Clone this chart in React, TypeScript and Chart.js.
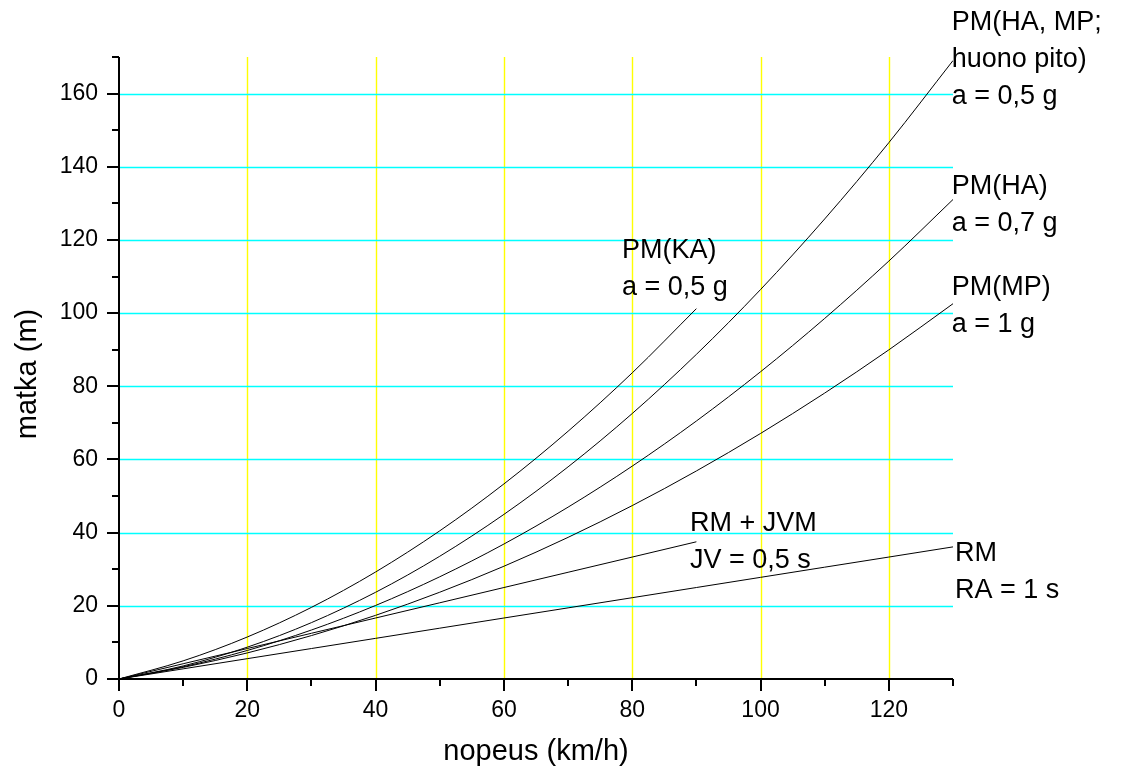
import React, { useEffect, useRef } from 'react';
import { Chart, registerables } from 'chart.js';

Chart.register(...registerables);

// speeds (km/h)
const speedFull = [0, 10, 20, 30, 40, 50, 60, 70, 80, 90, 100, 110, 120, 130];
const speedShort = [0, 10, 20, 30, 40, 50, 60, 70, 80, 90];

// distances (m)
const rmRa1s = [0, 2.78, 5.56, 8.33, 11.11, 13.89, 16.67, 19.44, 22.22, 25.0, 27.78, 30.56, 33.33, 36.11];
const rmJvm = [0, 4.17, 8.33, 12.5, 16.67, 20.83, 25.0, 29.17, 33.33, 37.5];
const pmMp = [0, 3.17, 7.13, 11.87, 17.4, 23.72, 30.82, 38.71, 47.39, 56.86, 67.11, 78.15, 89.96, 102.57];
const pmHa = [0, 3.34, 7.8, 13.39, 20.1, 27.94, 36.89, 46.97, 58.18, 70.51, 83.97, 98.55, 114.23, 131.05];
const pmHaMpHuono = [0, 3.57, 8.7, 15.41, 23.7, 33.55, 44.99, 57.98, 72.56, 88.72, 106.44, 125.74, 146.59, 169.03];
const pmKa = [0, 4.96, 11.48, 19.58, 29.25, 40.5, 53.32, 67.71, 83.67, 101.22];

// tick labels
const xTickLabels = ['0', '20', '40', '60', '80', '100', '120'];
const yTickLabels = ['0', '20', '40', '60', '80', '100', '120', '140', '160'];

const xTitle = 'nopeus (km/h)';
const yTitle = 'matka (m)';

// curve labels (anchored in data units, left/middle of first line)
const curveLabels = [
  { lines: ['PM(HA, MP;', 'huono pito)', 'a = 0,5 g'], x: 129.8, y: 179.3 },
  { lines: ['PM(HA)', 'a = 0,7 g'], x: 129.8, y: 134.5 },
  { lines: ['PM(MP)', 'a = 1 g'], x: 129.8, y: 107.1 },
  { lines: ['PM(KA)', 'a = 0,5 g'], x: 78.4, y: 117.2 },
  { lines: ['RM + JVM', 'JV = 0,5 s'], x: 89.0, y: 42.4 },
  { lines: ['RM', 'RA = 1 s'], x: 130.3, y: 34.4 },
];

const FONT = "Arial, 'Liberation Sans', sans-serif";

const pts = (xs: number[], ys: number[]) => xs.map((x, i) => ({ x, y: ys[i] }));

const axesPlugin = {
  id: 'customAxes',
  beforeDatasetsDraw(chart: any) {
    const { ctx, chartArea, scales } = chart;
    ctx.save();
    ctx.lineWidth = 1.4;
    ctx.strokeStyle = '#FFFF00';
    ctx.beginPath();
    xTickLabels.forEach((l) => {
      const v = Number(l);
      if (v <= 0) return;
      const px = Math.round(scales.x.getPixelForValue(v)) + 0.5;
      ctx.moveTo(px, chartArea.top);
      ctx.lineTo(px, chartArea.bottom);
    });
    ctx.stroke();
    ctx.strokeStyle = '#00FFFF';
    ctx.beginPath();
    yTickLabels.forEach((l) => {
      const v = Number(l);
      if (v <= 0) return;
      const py = Math.round(scales.y.getPixelForValue(v)) + 0.5;
      ctx.moveTo(chartArea.left, py);
      ctx.lineTo(chartArea.right, py);
    });
    ctx.stroke();
    ctx.restore();
  },
  afterDraw(chart: any) {
    const { ctx, chartArea, scales } = chart;
    const xs = scales.x;
    const ys = scales.y;
    ctx.save();
    ctx.strokeStyle = '#000';
    ctx.lineWidth = 2;
    ctx.lineCap = 'butt';
    ctx.beginPath();
    ctx.moveTo(chartArea.left, chartArea.top);
    ctx.lineTo(chartArea.left, chartArea.bottom);
    ctx.moveTo(chartArea.left - 1, chartArea.bottom);
    ctx.lineTo(chartArea.right, chartArea.bottom);
    ctx.stroke();
    ctx.beginPath();
    for (let v = 0; v <= 130; v += 10) {
      const px = Math.round(xs.getPixelForValue(v));
      const len = v % 20 === 0 ? 12 : 7;
      ctx.moveTo(px, chartArea.bottom);
      ctx.lineTo(px, chartArea.bottom + len);
    }
    for (let v = 0; v <= 170; v += 10) {
      const py = Math.round(ys.getPixelForValue(v));
      const len = v % 20 === 0 ? 12 : 7;
      ctx.moveTo(chartArea.left, py);
      ctx.lineTo(chartArea.left - len, py);
    }
    ctx.stroke();
    // y axis title
    ctx.fillStyle = '#000';
    ctx.font = `29px ${FONT}`;
    ctx.textAlign = 'center';
    ctx.textBaseline = 'middle';
    ctx.translate(28, (chartArea.top + chartArea.bottom) / 2 + 6);
    ctx.rotate(-Math.PI / 2);
    ctx.fillText(yTitle, 0, 0);
    ctx.restore();
  },
  afterDatasetsDraw(chart: any) {
    const { ctx, scales } = chart;
    ctx.save();
    ctx.fillStyle = '#000';
    ctx.font = `27px ${FONT}`;
    ctx.textAlign = 'left';
    ctx.textBaseline = 'middle';
    curveLabels.forEach((lab) => {
      const px = scales.x.getPixelForValue(lab.x);
      const py = scales.y.getPixelForValue(lab.y);
      lab.lines.forEach((t, i) => ctx.fillText(t, px, py + i * 37));
    });
    ctx.restore();
  },
};

export default function App() {
  const ref = useRef<HTMLCanvasElement | null>(null);
  useEffect(() => {
    document.body.style.margin = '0';
    if (!ref.current) return;
    const line = (data: any) => ({
      data,
      borderColor: '#000',
      borderWidth: 1,
      pointRadius: 0,
      fill: false,
      cubicInterpolationMode: 'monotone' as const,
    });
    const chart = new Chart(ref.current, {
      type: 'line',
      data: {
        datasets: [
          { label: 'RM', ...line(pts(speedFull, rmRa1s)) },
          { label: 'RM + JVM', ...line(pts(speedShort, rmJvm)) },
          { label: 'PM(MP)', ...line(pts(speedFull, pmMp)) },
          { label: 'PM(HA)', ...line(pts(speedFull, pmHa)) },
          { label: 'PM(HA, MP; huono pito)', ...line(pts(speedFull, pmHaMpHuono)) },
          { label: 'PM(KA)', ...line(pts(speedShort, pmKa)) },
        ],
      },
      options: {
        animation: false,
        responsive: true,
        maintainAspectRatio: false,
        layout: { padding: { left: 0, top: 57, right: 168, bottom: 0 } },
        plugins: { legend: { display: false }, tooltip: { enabled: false } },
        scales: {
          x: {
            type: 'linear',
            min: 0,
            max: 130,
            afterFit: (s: any) => { s.height = 90; },
            ticks: {
              stepSize: 10,
              autoSkip: false,
              maxRotation: 0,
              padding: 18,
              color: '#000',
              font: { family: FONT, size: 23 },
              callback: (v: any) => xTickLabels.find((l) => Number(l) === v) ?? '',
            },
            grid: { display: false, drawTicks: false },
            border: { display: false },
            title: {
              display: true,
              text: xTitle,
              color: '#000',
              font: { family: FONT, size: 29 },
              padding: { top: 0, bottom: 0 },
            },
          },
          y: {
            type: 'linear',
            min: 0,
            max: 170,
            afterFit: (s: any) => { s.width = 119; },
            ticks: {
              stepSize: 10,
              autoSkip: false,
              padding: 21,
              color: '#000',
              font: { family: FONT, size: 23 },
              callback: (v: any) => yTickLabels.find((l) => Number(l) === v) ?? '',
            },
            grid: { display: false, drawTicks: false },
            border: { display: false },
            title: { display: false, text: yTitle },
          },
        },
      },
      plugins: [axesPlugin],
    });
    return () => chart.destroy();
  }, []);
  return (
    <div style={{ position: 'fixed', left: 0, top: 0, width: 1121, height: 769, background: '#fff' }}>
      <canvas ref={ref} />
    </div>
  );
}
